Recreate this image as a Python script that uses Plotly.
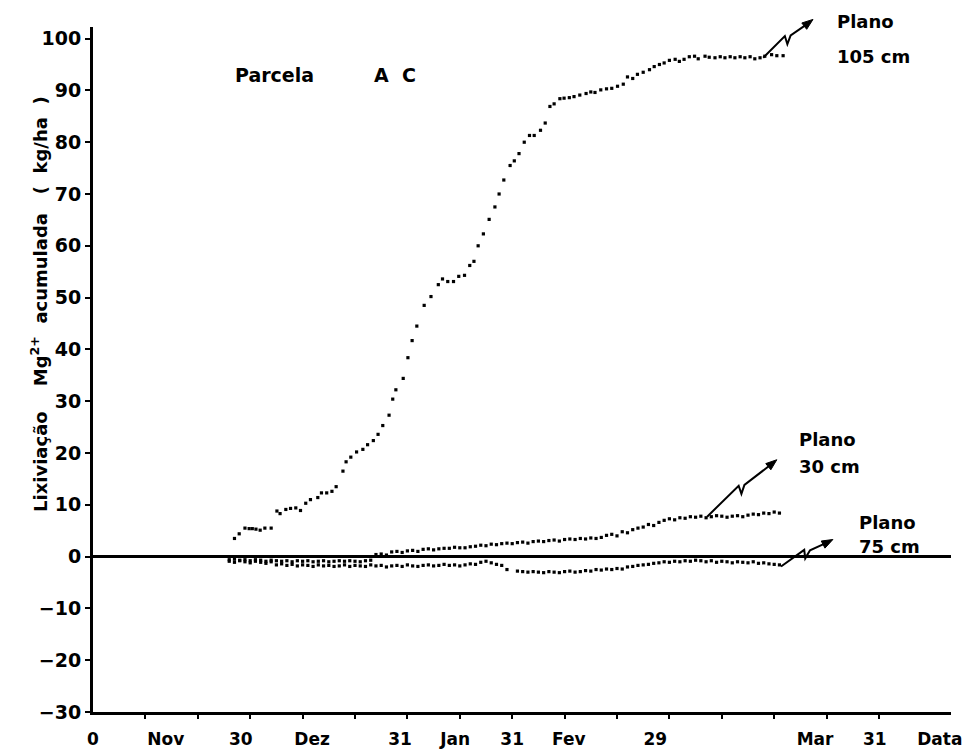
import plotly.graph_objects as go

# ---------------- data ----------------
# x in days counted from 31 Oct; y = cumulative Mg2+ leaching (kg/ha)
dias_105 = [27.0, 27.9, 29.0, 29.8, 30.4, 31.1, 31.9, 32.8, 34.0, 35.1, 35.7, 36.8, 37.7, 38.7,
            39.6, 40.6, 41.5, 42.9, 43.6, 44.6, 45.6, 46.4, 47.7, 48.3, 49.2, 50.3, 51.5, 52.4,
            53.5, 54.4, 55.3, 56.5, 57.2, 57.8, 59.2, 60.1, 60.9, 61.8, 63.2, 64.5, 65.9, 66.7,
            67.7, 68.8, 69.8, 70.9, 71.9, 72.7, 73.5, 74.5, 75.6, 76.7, 77.5, 78.4, 79.6, 80.4,
            81.3, 82.3, 83.3, 84.2, 85.4, 86.3, 87.2, 88.0, 89.1, 89.9, 90.9, 91.8, 92.9, 94.1,
            95.0, 95.8, 96.9, 98.0, 99.0, 100.1, 101.2, 102.0, 103.0, 103.9, 105.0, 106.2, 107.1,
            108.1, 109.0, 110.0, 111.1, 111.9, 112.8, 113.8, 114.8, 115.5, 116.8, 117.6, 118.7,
            119.7, 120.6, 121.6, 122.5, 123.5, 124.4, 125.4, 126.3, 127.3, 128.2, 129.5, 130.5,
            131.7]
plano_105 = [3.5, 4.4, 5.5, 5.4, 5.4, 5.3, 5.1, 5.5, 5.5, 8.8, 8.3, 9.1, 9.3, 9.4,
             8.9, 10.3, 11.0, 11.4, 12.3, 12.3, 12.6, 13.5, 16.5, 18.3, 19.2, 20.2, 20.7, 21.6,
             22.4, 23.6, 25.3, 27.3, 30.4, 32.2, 34.4, 38.4, 41.7, 44.5, 48.5, 50.2, 52.5, 53.6,
             53.1, 53.1, 54.1, 54.3, 56.2, 57.0, 60.0, 62.3, 65.1, 67.5, 70.0, 72.7, 75.5, 76.4,
             77.8, 80.0, 81.3, 81.3, 82.3, 83.7, 86.9, 87.4, 88.4, 88.5, 88.6, 88.8, 89.1, 89.4,
             89.7, 89.6, 90.1, 90.3, 90.4, 90.8, 91.2, 92.6, 92.3, 93.1, 93.5, 94.0, 94.6,
             95.0, 95.3, 95.8, 96.0, 95.6, 96.0, 96.5, 96.6, 96.1, 96.6, 96.4, 96.3,
             96.5, 96.3, 96.5, 96.3, 96.5, 96.3, 96.5, 96.1, 96.3, 96.6, 96.9, 96.7,
             96.7]

dias_30 = list(range(26, 132))
plano_30 = [-0.6, -0.5, -0.7, -0.6, -0.8, -0.6, -0.7, -0.9, -0.7, -0.8, -0.9, -0.8, -1.0, -0.8,
            -0.9, -0.8, -1.0, -0.9, -0.8, -1.0, -0.9, -0.8, -0.9, -0.8, -0.9, -1.0, -0.8, -0.7,
            0.4, 0.5, 0.3, 0.9, 1.0, 0.8, 1.1, 1.2, 1.0, 1.4, 1.5, 1.3, 1.5, 1.6,
            1.6, 1.8, 1.7, 1.7, 1.9, 2.0, 2.2, 2.1, 2.4, 2.3, 2.5, 2.6, 2.5, 2.7,
            2.8, 2.6, 2.9, 3.0, 2.9, 3.1, 3.2, 3.0, 3.3, 3.4, 3.3, 3.5, 3.4, 3.6,
            3.5, 3.7, 4.1, 4.3, 4.0, 4.8, 4.6, 5.2, 5.5, 5.7, 6.2, 6.0, 6.6, 7.0,
            7.3, 7.1, 7.5, 7.4, 7.7, 7.6, 7.8, 7.5, 7.7, 7.9, 7.8, 7.6, 7.8, 7.9,
            7.7, 8.0, 8.2, 8.1, 8.4, 8.3, 8.6, 8.4]

dias_75 = list(range(26, 80)) + list(range(81, 132))
plano_75 = [-0.9, -1.1, -0.8, -1.0, -1.2, -0.9, -1.1, -1.3, -1.0, -1.6, -1.4, -1.7, -1.5, -1.8,
            -1.6, -1.7, -1.9, -1.6, -1.8, -1.7, -1.9, -1.8, -1.6, -1.9, -1.7, -1.8, -1.9, -1.6,
            -1.8, -1.7, -2.0, -1.8, -1.7, -1.9, -1.6, -1.8, -1.9, -1.7, -1.6, -1.8, -1.7, -1.5,
            -1.7, -1.6, -1.8, -1.6, -1.4, -1.5, -1.1, -0.9, -1.2, -1.5, -1.7, -2.5,
            -2.8, -2.9, -3.0, -2.9, -3.0, -3.1, -2.9, -3.0, -3.1, -2.9, -2.8, -3.0, -2.9, -2.7,
            -2.8, -2.5, -2.6, -2.4, -2.5, -2.3, -2.4, -2.0, -1.9, -1.7, -1.6, -1.5, -1.3, -1.2,
            -1.0, -1.1, -0.9, -1.0, -0.8, -0.9, -0.7, -0.8, -1.0, -0.8, -1.1, -0.9, -1.0, -1.2,
            -1.0, -1.1, -1.2, -1.0, -1.3, -1.2, -1.4, -1.5, -1.6]

tick_pos = [0, 13.9, 28.2, 41.8, 58.6, 69.1, 80.0, 90.8, 107.3, 137.8, 149.2, 161.6]
tick_txt = ["0", "Nov", "30", "Dez", "31", "Jan", "31", "Fev", "29", "Mar", "31", "Data"]
minor_ticks = list(range(10, 160, 10))
y_ticks = list(range(-30, 101, 10))

# ---------------- layout geometry ----------------
W, H = 972, 749
ML, MR, MT, MB = 93, 21, 27, 37
PW, PH = W - ML - MR, H - MT - MB
PX_PER_DAY = 5.24
PX_PER_UNIT = 5.18
X_MAX = PW / PX_PER_DAY
Y_MIN = -30
Y_MAX = Y_MIN + PH / PX_PER_UNIT

FONT = "DejaVu Sans"
BLACK = "#000000"

fig = go.Figure()
for xs, ys, name in [(dias_105, plano_105, "Plano 105 cm"),
                     (dias_30, plano_30, "Plano 30 cm"),
                     (dias_75, plano_75, "Plano 75 cm")]:
    fig.add_trace(go.Scatter(x=xs, y=ys, mode="markers", name=name,
                             marker=dict(color=BLACK, size=3.2, symbol="square"),
                             showlegend=False))

# invisible trace on second x axis to draw the minor tick marks
fig.add_trace(go.Scatter(x=[0], y=[None], xaxis="x2", showlegend=False, hoverinfo="skip"))


def to_px(d, v):
    return ML + d * PX_PER_DAY, H - MB - (v - Y_MIN) * PX_PER_UNIT


def to_paper(px, py):
    return (px - ML) / PW, (H - MB - py) / PH


def path_of(pts, close=False):
    ppts = [to_paper(a, b) for a, b in pts]
    s = "M " + " L ".join(f"{a:.5f},{b:.5f}" for a, b in ppts)
    return s + (" Z" if close else "")


def broken_arrow(tail, head):
    tx, ty = to_px(*tail)
    hx, hy = to_px(*head)
    dx, dy = hx - tx, hy - ty
    L = (dx * dx + dy * dy) ** 0.5
    ux, uy = dx / L, dy / L
    px_, py_ = -uy, ux
    mx, my = tx + dx * 0.5, ty + dy * 0.5
    pts = [(tx, ty),
           (mx - 1 * ux - 4 * px_, my - 1 * uy - 4 * py_),
           (mx - 4 * ux + 4 * px_, my - 4 * uy + 4 * py_),
           (mx + 4 * ux - 1 * px_, my + 4 * uy - 1 * py_),
           (hx - 8 * ux, hy - 8 * uy)]
    fig.add_shape(type="path", path=path_of(pts), xref="paper", yref="paper",
                  line=dict(color=BLACK, width=2))
    head_pts = [(hx, hy),
                (hx - 11 * ux + 4 * px_, hy - 11 * uy + 4 * py_),
                (hx - 11 * ux - 4 * px_, hy - 11 * uy - 4 * py_)]
    fig.add_shape(type="path", path=path_of(head_pts, close=True), xref="paper", yref="paper",
                  line=dict(color=BLACK, width=1), fillcolor=BLACK)


broken_arrow((127.9, 96.3), (137.4, 103.7))
broken_arrow((117.2, 7.7), (130.5, 18.7))
broken_arrow((131.3, -1.9), (141.2, 3.3))


def label(text, d, v, size=19):
    xp, yp = to_paper(*to_px(d, v))
    fig.add_annotation(x=xp, y=yp, xref="paper", yref="paper", text=text, showarrow=False,
                       xanchor="left", yanchor="middle",
                       font=dict(family=FONT, size=size, color=BLACK, weight="bold"))


for t, d, v in [("Plano", 141.6, 103.3), ("105 cm", 141.6, 96.5),
                ("Plano", 134.4, 22.6), ("30 cm", 134.4, 17.4),
                ("Plano", 145.8, 6.6), ("75 cm", 145.8, 1.9)]:
    label(t, d, v, size=18)

label("Parcela", 26.8, 93.0, size=19)
label("A&nbsp;&nbsp;C", 53.3, 93.0, size=19)

fig.add_annotation(x=(25 - ML) / PW, y=(H - MB - 304) / PH,
                   xref="paper", yref="paper", textangle=-90, showarrow=False,
                   text=("Lixiviação&nbsp;&nbsp;&nbsp;&nbsp;Mg<sup>2+</sup>&nbsp;&nbsp;acumulada"
                         "&nbsp;&nbsp;&nbsp;(&nbsp;&nbsp;kg/ha&nbsp;&nbsp;)"),
                   font=dict(family=FONT, size=18, color=BLACK, weight="bold"))

fig.update_layout(
    width=W, height=H,
    margin=dict(l=ML, r=MR, t=MT, b=MB),
    paper_bgcolor="white", plot_bgcolor="white",
    xaxis=dict(range=[0, X_MAX], tickmode="array", tickvals=tick_pos, ticktext=tick_txt,
               ticks="outside", ticklen=10, tickcolor="rgba(0,0,0,0)", automargin=False,
               showline=True, linecolor=BLACK, linewidth=3, showgrid=False, zeroline=False,
               tickfont=dict(family=FONT, size=17, color=BLACK, weight="bold")),
    xaxis2=dict(range=[0, X_MAX], overlaying="x", side="bottom", tickmode="array",
                tickvals=minor_ticks, ticks="outside", ticklen=6, tickwidth=2, tickcolor=BLACK,
                showticklabels=False, showline=False, showgrid=False, zeroline=False,
                automargin=False),
    yaxis=dict(range=[Y_MIN, Y_MAX], tickmode="array", tickvals=y_ticks,
               ticks="outside", ticklen=5, tickwidth=2, tickcolor=BLACK, automargin=False,
               showline=True, linecolor=BLACK, linewidth=3, showgrid=False,
               zeroline=True, zerolinecolor=BLACK, zerolinewidth=3,
               tickfont=dict(family=FONT, size=19, color=BLACK, weight="bold")),
)

# the page's default 8px body margin would shift the figure; remove it
fig.write_html("out.html", config={"displayModeBar": False},
               post_script="document.body.style.margin='0';document.body.style.overflow='hidden';")
